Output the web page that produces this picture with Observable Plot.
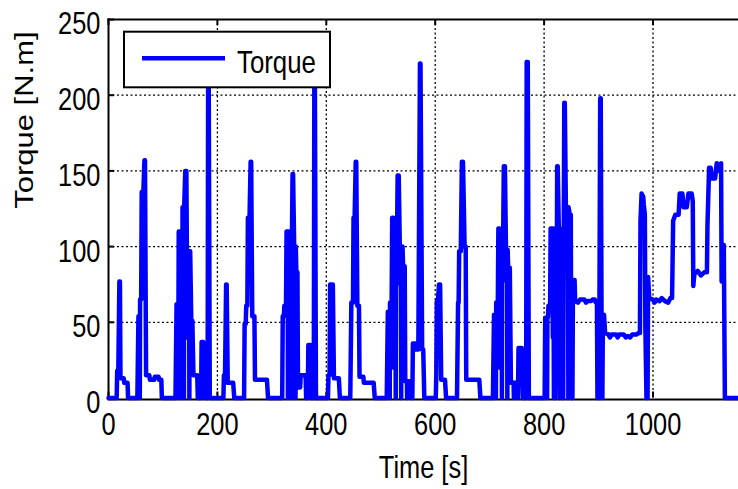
<!DOCTYPE html>
<html><head><meta charset="utf-8">
<script src="https://cdn.jsdelivr.net/npm/d3@7"></script>
<script src="https://cdn.jsdelivr.net/npm/@observablehq/plot@0.6"></script>
<style>html,body{margin:0;padding:0;background:#fff;}</style>
</head><body><div id="chart"></div>
<script>
// ---- data ----
const timeS = [
0,15,16,18,20,21,22,28,29,35,36,53,55,57,57.5,58,60,61,64,66,67,69,75,76,84,85,92,93,97,98,
123,125,127,127.5,128.5,129,131,132,133,135,135.5,136,138,138.5,139,141,143,145,146,148,148.5,149,150,152,154,156,163,164,170,171,174,175,177,178,182,183,184,186,
211,212,214,216,217,219,229,231,249,250,252,253,255,256,259,261,262,264,268,269,291,293,
319,320,322,323,326,327,329,329.5,330,331,332,333,336,336.5,337,338,339,341,343,343.5,344,345,347,348,352,353,362,363,366,367,371,372,377,378,379,381,
403,404,406,407,412,414,423,425,444,446,449,450,452,454,455,457,460,461,468,469,487,489,
511,513,516,516.5,517,520,521,523,524,525,527,527.5,528,529,531,533,535,537,537.5,538,540,541,544,545,548,548.5,549,554,556,558,559,564,565,569,572,573,576,578,580,
601,602,603,605,607,609,611,618,620,640,642,643,644,647,649,651,654,656,657,681,683,
706,708,711,711.5,712,715,716,718,719,720,722,722.5,723,724,726,728,730,732,732.5,733,734,737,739,744,744.5,745,750,752,753,759,761,767,768,770,772,
801,802,805,805.5,806,807,808,811,812,815,816,817,818,820,821,823,824,825,827,828,828.5,829,830,832,833,835,837,838,840,843,844,844.5,845,847,849,850,852,853,856,
857,862,866,874,877,880,886,889,893,895,897,898,901,903,904,906,907,908,910,
912,918,921,924,932,935,938,946,950,953,958,962,970,974,976,
977,979,982,983,985,986,988,990,991,993,1000,1003,1006,1012,1016,1022,1028,1032,1035,
1037,1041,1047,1049,1054,1056,1062,1065,1071,1073,1074,1076,1082,1088,1094,1099,
1100,1103,1106,1108,1114,1117,1119,1121,1125,1126,1129,1130,1132,1157
];
const torqueNm = [
0,0,18,18,77,77,13,13,10,10,0,0,54,54,0,65,65,136,136,157,157,15,15,12,12,14,14,12,12,0,
0,62,62,0,62,110,110,0,110,110,25,126,126,0,126,150,150,40,97,97,0,97,97,51,51,15,15,0,0,37,37,33,33,0,0,212,212,0,
0,15,15,75,75,10,10,0,0,49,49,61,61,119,119,156,156,54,54,12,12,0,
0,54,54,61,61,110,110,0,110,110,20,110,110,0,110,148,148,100,100,0,100,83,83,7,7,15,15,0,0,35,35,0,0,212,212,0,
0,15,15,75,75,13,13,0,0,63,63,119,119,156,156,61,61,14,14,10,10,0,
0,57,57,0,63,63,119,119,20,75,75,0,75,75,147,147,100,100,0,100,100,87,87,11,11,0,11,11,0,0,36,36,32,32,221,221,32,32,0,
0,15,64,64,75,75,12,12,0,0,63,63,97,97,156,156,100,100,12,12,0,
0,55,55,0,63,63,112,112,20,77,77,0,77,77,153,153,98,98,0,98,86,86,10,10,0,10,10,0,33,33,0,0,222,222,0,
0,53,53,0,53,53,61,61,112,112,40,112,0,0,55,55,153,153,112,112,0,112,53,53,0,0,195,195,126,126,126,0,126,121,121,0,0,78,78,
64,63,65,65,63,64,64,65,65,63,63,0,0,198,198,0,0,55,55,
43,42,40,42,42,40,42,42,40,41,40,42,42,43,43,
117,135,133,128,121,46,0,0,80,66,65,63,65,64,66,64,63,66,66,
117,121,121,135,135,126,126,135,135,130,74,82,84,81,83,83,
114,152,152,145,145,155,150,154,155,77,101,101,0,0
];
const xTicks = [0, 200, 400, 600, 800, 1000];
const yTicks = [0, 50, 100, 150, 200, 250];
const xGrid = [200, 400, 600, 800, 1000];
const yGrid = [50, 100, 150, 200];
const xLabel = "Time [s]";
const yLabel = "Torque [N.m]";
const seriesName = "Torque";

const data = timeS.map((t, i) => ({t, v: torqueNm[i]}));

const W = 738, H = 489, mL = 108, mR = 0, mT = 19, mB = 91.5;
const fw = W - mL - mR, fh = H - mT - mB;
const FONT = "'Liberation Sans', Arial, sans-serif";
const BLUE = "#0000ff";
const grid = {stroke: "#000", strokeOpacity: 1, strokeWidth: 1.3, strokeDasharray: "2,2.5"};

const chart = Plot.plot({
  width: W, height: H,
  marginLeft: mL, marginRight: mR, marginTop: mT, marginBottom: mB,
  style: {fontFamily: FONT, fontSize: "31px", background: "#fff", color: "#000"},
  x: {domain: [0, 1157]},
  y: {domain: [0, 250]},
  marks: [
    Plot.gridX(xGrid, grid),
    Plot.gridY(yGrid, grid),
    Plot.tickX(xTicks, {x: d => d, stroke: "#000", strokeWidth: 2, insetTop: fh - 6}),
    Plot.tickX(xTicks, {x: d => d, stroke: "#000", strokeWidth: 2, insetBottom: fh - 6}),
    Plot.tickY(yTicks, {y: d => d, stroke: "#000", strokeWidth: 2, insetRight: fw - 6}),
    Plot.frame({anchor: "top", stroke: "#000", strokeWidth: 2}),
    Plot.frame({anchor: "left", stroke: "#000", strokeWidth: 2}),
    Plot.frame({anchor: "bottom", stroke: "#000", strokeWidth: 2, dy: 1.5}),
    Plot.line(data, {x: "t", y: "v", stroke: BLUE, strokeWidth: 4.5, strokeLinejoin: "round", strokeLinecap: "round"}),
    Plot.axisX(xTicks, {anchor: "bottom", tickSize: 0, tickPadding: 15, label: null, tickFormat: d => String(d)}),
    Plot.axisY(yTicks, {anchor: "left", tickSize: 0, tickPadding: 8, label: null, dy: 5, tickFormat: d => String(d)}),
    Plot.text([xLabel], {frameAnchor: "bottom", dy: 80, lineAnchor: "bottom"}),
    Plot.text([yLabel], {frameAnchor: "left", rotate: -90, dx: -76, lineAnchor: "bottom"})
  ]
});

// horizontally condensed lettering, as in the reference
const SX = 0.82;
d3.select(chart).selectAll("text").each(function () {
  let tr = this.getAttribute("transform");
  if (!tr) {
    const x = +(this.getAttribute("x") || 0), y = +(this.getAttribute("y") || 0);
    this.removeAttribute("x"); this.removeAttribute("y");
    tr = `translate(${x},${y})`;
  }
  if (/rotate/.test(tr)) tr = tr.replace(/rotate/, `scale(${SX},1) rotate`);
  else tr = tr + ` scale(${SX},1)`;
  this.setAttribute("transform", tr);
});

// legend
const lg = d3.select(chart).append("g");
lg.append("rect").attr("x", 124).attr("y", 31.7).attr("width", 206).attr("height", 55.6)
  .attr("fill", "#fff").attr("stroke", "#000").attr("stroke-width", 2);
lg.append("line").attr("x1", 142).attr("x2", 225).attr("y1", 58.3).attr("y2", 58.3)
  .attr("stroke", BLUE).attr("stroke-width", 4.5);
lg.append("text").attr("transform", `translate(237,72.7) scale(${SX},1)`)
  .attr("font-size", 31.5).attr("text-anchor", "start").attr("fill", "#000").text(seriesName);

document.getElementById("chart").appendChild(chart);
</script>
</body></html>
